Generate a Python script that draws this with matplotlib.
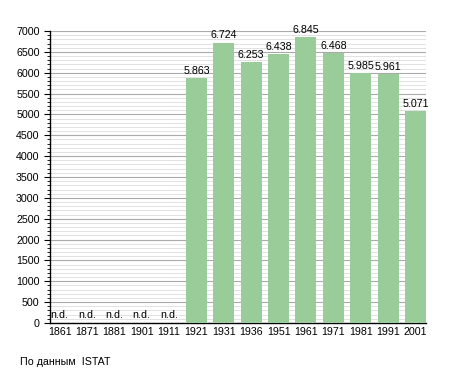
import matplotlib
matplotlib.use("Agg")
import matplotlib.pyplot as plt
from matplotlib.ticker import MultipleLocator

years = ["1861", "1871", "1881", "1901", "1911", "1921", "1931", "1936",
         "1951", "1961", "1971", "1981", "1991", "2001"]
population = [None, None, None, None, None, 5863, 6724, 6253, 6438, 6845,
              6468, 5985, 5961, 5071]
labels = ["n.d.", "n.d.", "n.d.", "n.d.", "n.d.", "5.863", "6.724", "6.253",
          "6.438", "6.845", "6.468", "5.985", "5.961", "5.071"]

plt.rcParams['font.family'] = ['Liberation Sans', 'DejaVu Sans']
fig = plt.figure(figsize=(4.55, 3.73), dpi=100)
ax = fig.add_axes([50/455, 1-323/373, (426-50)/455, (323-31)/373])

x = list(range(len(years)))
vals = [v if v is not None else 0 for v in population]
w = 0.77
ax.bar(x, vals, width=w, color="#99cc99", zorder=3)
for xi, v, lab in zip(x, vals, labels):
    ax.text(xi, v + 60, lab, ha="center", va="bottom", fontsize=7.7, color="#000000", zorder=4)

ax.set_xlim(-0.35, len(years) - 1 + w / 2)
ax.set_ylim(0, 7000)
ax.set_xticks(x)
ax.set_xticklabels(years, fontsize=7.7)
ax.yaxis.set_major_locator(MultipleLocator(500))
ax.yaxis.set_minor_locator(MultipleLocator(100))
ax.tick_params(axis="y", which="major", labelsize=7.7, length=4, width=0.8, direction="out")
ax.tick_params(axis="y", which="minor", length=2.5, width=0.6, direction="out")
ax.tick_params(axis="x", length=0, pad=3)
ax.grid(axis="y", which="major", color="#aaaaaa", linewidth=0.8, zorder=1)
ax.grid(axis="y", which="minor", color="#dddddd", linewidth=0.6, zorder=0)
ax.set_axisbelow(True)
for s in ["top", "right"]:
    ax.spines[s].set_visible(False)
ax.spines["left"].set_linewidth(1.0)
ax.spines["bottom"].set_linewidth(1.0)

fig.text(20/455, 1-362/373, "По данным  ISTAT", fontsize=7.7, va="center", ha="left")

fig.savefig("out.png", dpi=100)
